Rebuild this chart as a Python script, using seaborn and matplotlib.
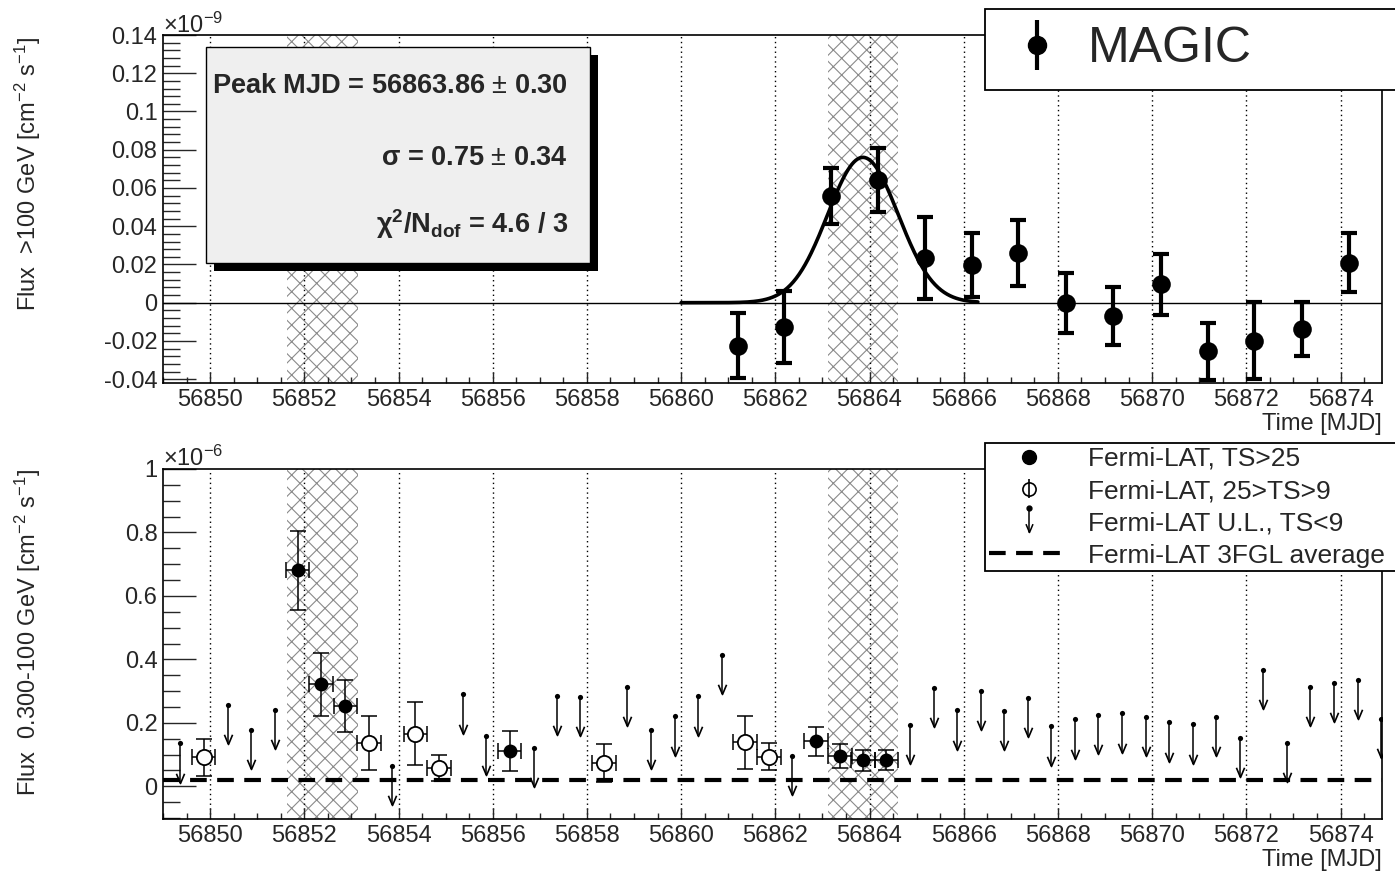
import matplotlib
matplotlib.use("Agg")
import matplotlib.pyplot as plt
import numpy as np
import seaborn as sns
from matplotlib.collections import LineCollection
from matplotlib.container import ErrorbarContainer
from matplotlib.legend_handler import HandlerBase, HandlerErrorbar
from matplotlib.lines import Line2D
from matplotlib.patches import Rectangle
from matplotlib.path import Path
from matplotlib.ticker import FuncFormatter, MultipleLocator

W, H = 1395, 877

# MAGIC, flux >100 GeV [1e-9 cm^-2 s^-1]
magic_mjd = [56861.20, 56862.19, 56863.18, 56864.18, 56865.17, 56866.17, 56867.16,
             56868.18, 56869.17, 56870.18, 56871.19, 56872.17, 56873.18, 56874.18]
magic_flux = [-0.0224, -0.0128, 0.0558, 0.0642, 0.0234, 0.0199, 0.0261,
              0.0000, -0.0070, 0.0096, -0.0254, -0.0198, -0.0136, 0.0208]
magic_err = [0.0171, 0.0189, 0.0147, 0.0169, 0.0214, 0.0167, 0.0172,
             0.0157, 0.0153, 0.0158, 0.0150, 0.0203, 0.0142, 0.0154]

# gaussian fit shown in the box
FIT_PEAK = 56863.86
FIT_SIGMA = 0.75
FIT_AMPL = 0.076
FIT_FROM, FIT_TO = 56860.0, 56866.3

# Fermi-LAT, flux 0.3-100 GeV [1e-6 cm^-2 s^-1], 12 h bins
det_mjd = [56851.86, 56852.36, 56852.87, 56856.36, 56862.86, 56863.37, 56863.86, 56864.36]
det_flux = [0.681, 0.321, 0.253, 0.111, 0.142, 0.095, 0.082, 0.082]
det_err = [0.124, 0.099, 0.082, 0.064, 0.045, 0.038, 0.034, 0.032]

weak_mjd = [56849.86, 56853.37, 56854.36, 56854.86, 56858.36, 56861.36, 56861.86]
weak_flux = [0.092, 0.137, 0.166, 0.058, 0.074, 0.139, 0.093]
weak_err = [0.058, 0.085, 0.100, 0.042, 0.059, 0.084, 0.043]

ul_mjd = [56849.36, 56850.37, 56850.87, 56851.37, 56853.87, 56855.37, 56855.86,
          56856.87, 56857.36, 56857.86, 56858.86, 56859.36, 56859.86, 56860.36,
          56860.86, 56862.36, 56864.86, 56865.36, 56865.86, 56866.36, 56866.86,
          56867.36, 56867.86, 56868.36, 56868.86, 56869.36, 56869.86, 56870.36,
          56870.86, 56871.36, 56871.86, 56872.36, 56872.86, 56873.36, 56873.86,
          56874.36, 56874.86]
ul_flux = [0.135, 0.256, 0.179, 0.242, 0.065, 0.290, 0.160,
           0.121, 0.286, 0.281, 0.314, 0.179, 0.221, 0.284,
           0.414, 0.097, 0.193, 0.311, 0.240, 0.300, 0.237,
           0.279, 0.189, 0.211, 0.226, 0.230, 0.218, 0.202,
           0.195, 0.218, 0.153, 0.368, 0.137, 0.314, 0.326,
           0.335, 0.213]

BIN_HALF = 0.25
FGL_AVERAGE = 0.019
ARROW_LEN = 0.124

band_start = [56851.63, 56863.11]
band_end = [56853.13, 56864.61]

sns.set_theme(style="white", rc={
    "axes.linewidth": 1.2,
    "axes.edgecolor": "black",
    "xtick.direction": "in",
    "ytick.direction": "in",
    "xtick.bottom": True,
    "ytick.left": True,
    "axes.unicode_minus": False,
    "hatch.linewidth": 0.8,
    "mathtext.fontset": "custom",
    "mathtext.rm": "Liberation Sans",
    "mathtext.it": "Liberation Sans:italic",
    "mathtext.bf": "Liberation Sans:bold",
})
plt.rcParams["font.family"] = ["Liberation Sans", "DejaVu Sans"]

arrow_head = Path([(-0.42, 1.0), (0.0, 0.0), (0.42, 1.0)],
                  [Path.MOVETO, Path.LINETO, Path.LINETO])


class ULHandler(HandlerBase):
    def create_artists(self, legend, orig_handle, xdescent, ydescent,
                       width, height, fontsize, trans):
        xc = -xdescent + 0.5 * width
        y_top = -ydescent + 1.2 * height
        y_bot = -ydescent - 0.1 * height
        stem = Line2D([xc, xc], [y_bot, y_top], color="black", lw=1.1)
        dot = Line2D([xc], [y_top], marker="o", ms=3.5, color="black", ls="none")
        head = Line2D([xc], [y_bot], marker=arrow_head, ms=12, mec="black",
                      mfc="none", mew=1.1, ls="none")
        for artist in (stem, dot, head):
            artist.set_transform(trans)
        return [stem, dot, head]


def style_axis(ax, ymajor, yminor, ylim):
    ax.set_xlim(56849.0, 56874.88)
    ax.set_ylim(*ylim)
    ax.xaxis.set_major_locator(MultipleLocator(2))
    ax.xaxis.set_minor_locator(MultipleLocator(0.5))
    ax.yaxis.set_major_locator(MultipleLocator(ymajor))
    ax.yaxis.set_minor_locator(MultipleLocator(yminor))
    ax.xaxis.set_major_formatter(FuncFormatter(lambda v, p: f"{v:.0f}"))
    ax.yaxis.set_major_formatter(FuncFormatter(lambda v, p: f"{round(v, 4):g}"))
    ax.tick_params(axis="x", which="major", length=8, width=1.0, labelsize=17, pad=4)
    ax.tick_params(axis="x", which="minor", length=4, width=1.0)
    ax.tick_params(axis="y", which="major", length=24, width=1.0, labelsize=17, pad=4)
    ax.tick_params(axis="y", which="minor", length=12, width=1.0)
    ax.grid(axis="x", which="major", color="black", ls=(0, (1, 2.5)), lw=1.0)
    ax.grid(axis="y", visible=False)
    for s0, s1 in zip(band_start, band_end):
        ax.axvspan(s0, s1, facecolor="none", edgecolor="#8a8a8a", hatch="xx",
                   lw=0, zorder=0.5)
    ax.set_xlabel("Time [MJD]", loc="right", fontsize=17, labelpad=2)


fig = plt.figure(figsize=(W / 100, H / 100), dpi=100)
ax1 = fig.add_axes([163 / W, 1 - 383 / H, (1382 - 163) / W, (383 - 35) / H])
ax2 = fig.add_axes([163 / W, 1 - 819 / H, (1382 - 163) / W, (819 - 469) / H])

# ---- top panel: MAGIC
style_axis(ax1, 0.02, 0.004, (-0.042, 0.14))
ax1.axhline(0, color="black", lw=1.0, zorder=1.5)
ax1.errorbar(magic_mjd, magic_flux, yerr=magic_err, fmt="none", ecolor="black",
             elinewidth=3, capsize=6, capthick=3, zorder=3)
sns.scatterplot(x=magic_mjd, y=magic_flux, ax=ax1, color="black", s=180,
                linewidth=0, zorder=4)
fit_x = np.linspace(FIT_FROM, FIT_TO, 300)
fit_y = FIT_AMPL * np.exp(-0.5 * ((fit_x - FIT_PEAK) / FIT_SIGMA) ** 2)
sns.lineplot(x=fit_x, y=fit_y, ax=ax1, color="black", lw=2.6, estimator=None, zorder=3)

# fit box with shadow
ax1.add_patch(Rectangle((0.0418, 0.3218), 0.3151, 0.6207, transform=ax1.transAxes,
                        facecolor="black", lw=0, zorder=6))
ax1.add_patch(Rectangle((0.0353, 0.3448), 0.3150, 0.6207, transform=ax1.transAxes,
                        facecolor="#efefef", edgecolor="black", lw=1.0, zorder=7))
box_lines = [r"Peak MJD = 56863.86 $\pm$ 0.30",
             r"$\mathbf{\sigma}$ = 0.75 $\pm$ 0.34",
             r"$\mathbf{\chi^{2}/N_{dof}}$ = 4.6 / 3"]
for text, yb in zip(box_lines, [0.8333, 0.6264, 0.4310]):
    ax1.text(0.3322, yb, text, transform=ax1.transAxes, ha="right", va="baseline",
             fontsize=19.5, fontweight="bold", zorder=8)

fig.text(163 / W, 1 - 33 / H, r"×10$^{-9}$", ha="left", va="baseline", fontsize=17)
fig.text(28 / W, 1 - 37 / H, r"Flux  >100 GeV [cm$^{-2}$ s$^{-1}$]", rotation=90,
         ha="center", va="top", fontsize=17)

magic_proxy = ErrorbarContainer(
    (Line2D([], [], marker="o", ms=13, color="black", ls="none"), (),
     (LineCollection([], colors="black", linewidths=3),)),
    has_xerr=False, has_yerr=True)
leg1 = ax1.legend([magic_proxy], ["MAGIC"],
                  handler_map={magic_proxy: HandlerErrorbar(yerr_size=0.5)},
                  loc="upper left", bbox_to_anchor=(985 / W, 0, 460 / W, 1 - 9 / H),
                  bbox_transform=fig.transFigure, mode="expand", fontsize=36,
                  numpoints=1, frameon=True, fancybox=False, edgecolor="black",
                  framealpha=1, borderpad=0.35, borderaxespad=0, handlelength=1.38,
                  handletextpad=0.33)
leg1.get_frame().set_linewidth(1.3)

# ---- bottom panel: Fermi-LAT
style_axis(ax2, 0.2, 0.05, (-0.103, 1.0))
ax2.axhline(FGL_AVERAGE, color="black", lw=3, ls=(0, (4, 2.5)), zorder=2)
ax2.errorbar(det_mjd, det_flux, xerr=BIN_HALF, yerr=det_err, fmt="none", ecolor="black",
             elinewidth=1.1, capsize=5.5, capthick=1.1, zorder=3)
ax2.errorbar(weak_mjd, weak_flux, xerr=BIN_HALF, yerr=weak_err, fmt="none", ecolor="black",
             elinewidth=1.1, capsize=5.5, capthick=1.1, zorder=3)
sns.scatterplot(x=det_mjd, y=det_flux, ax=ax2, color="black", s=100, linewidth=0, zorder=4)
sns.scatterplot(x=weak_mjd, y=weak_flux, ax=ax2, color="white", edgecolor="black",
                s=120, linewidth=1.3, zorder=4)

ul_low = np.array(ul_flux) - ARROW_LEN
ax2.vlines(ul_mjd, ul_low, ul_flux, color="black", lw=1.1, zorder=3)
sns.scatterplot(x=ul_mjd, y=ul_flux, ax=ax2, color="black", s=14, linewidth=0, zorder=4)
ax2.plot(ul_mjd, ul_low, ls="none", marker=arrow_head, ms=14, mec="black", mfc="none",
         mew=1.2, zorder=4)

fig.text(163 / W, 1 - 466 / H, r"×10$^{-6}$", ha="left", va="baseline", fontsize=17)
fig.text(28 / W, 1 - 469 / H, r"Flux  0.300-100 GeV [cm$^{-2}$ s$^{-1}$]", rotation=90,
         ha="center", va="top", fontsize=17)

det_proxy = Line2D([], [], marker="o", ms=10, color="black", ls="none")
weak_proxy = ErrorbarContainer(
    (Line2D([], [], marker="o", ms=9.5, mfc="none", mec="black", mew=1.2, ls="none"), (),
     (LineCollection([], colors="black", linewidths=1.2),)),
    has_xerr=False, has_yerr=True)
ul_proxy = Line2D([], [])
fgl_proxy = Line2D([], [], color="black", lw=3, ls=(0, (4, 2.5)))
leg2 = ax2.legend([det_proxy, weak_proxy, ul_proxy, fgl_proxy],
                  ["Fermi-LAT, TS>25", "Fermi-LAT, 25>TS>9", "Fermi-LAT U.L., TS<9",
                   "Fermi-LAT 3FGL average"],
                  handler_map={weak_proxy: HandlerErrorbar(yerr_size=0.36),
                               ul_proxy: ULHandler()},
                  loc="upper left", bbox_to_anchor=(985 / W, 0, 460 / W, 1 - 443 / H),
                  bbox_transform=fig.transFigure, mode="expand", fontsize=19,
                  numpoints=1, frameon=True, fancybox=False, edgecolor="black",
                  framealpha=1, borderpad=0.15, borderaxespad=0, labelspacing=0.31,
                  handlelength=3.0, handletextpad=0.75)
leg2.get_frame().set_linewidth(1.3)

fig.savefig("out.png", dpi=100, facecolor="white")
